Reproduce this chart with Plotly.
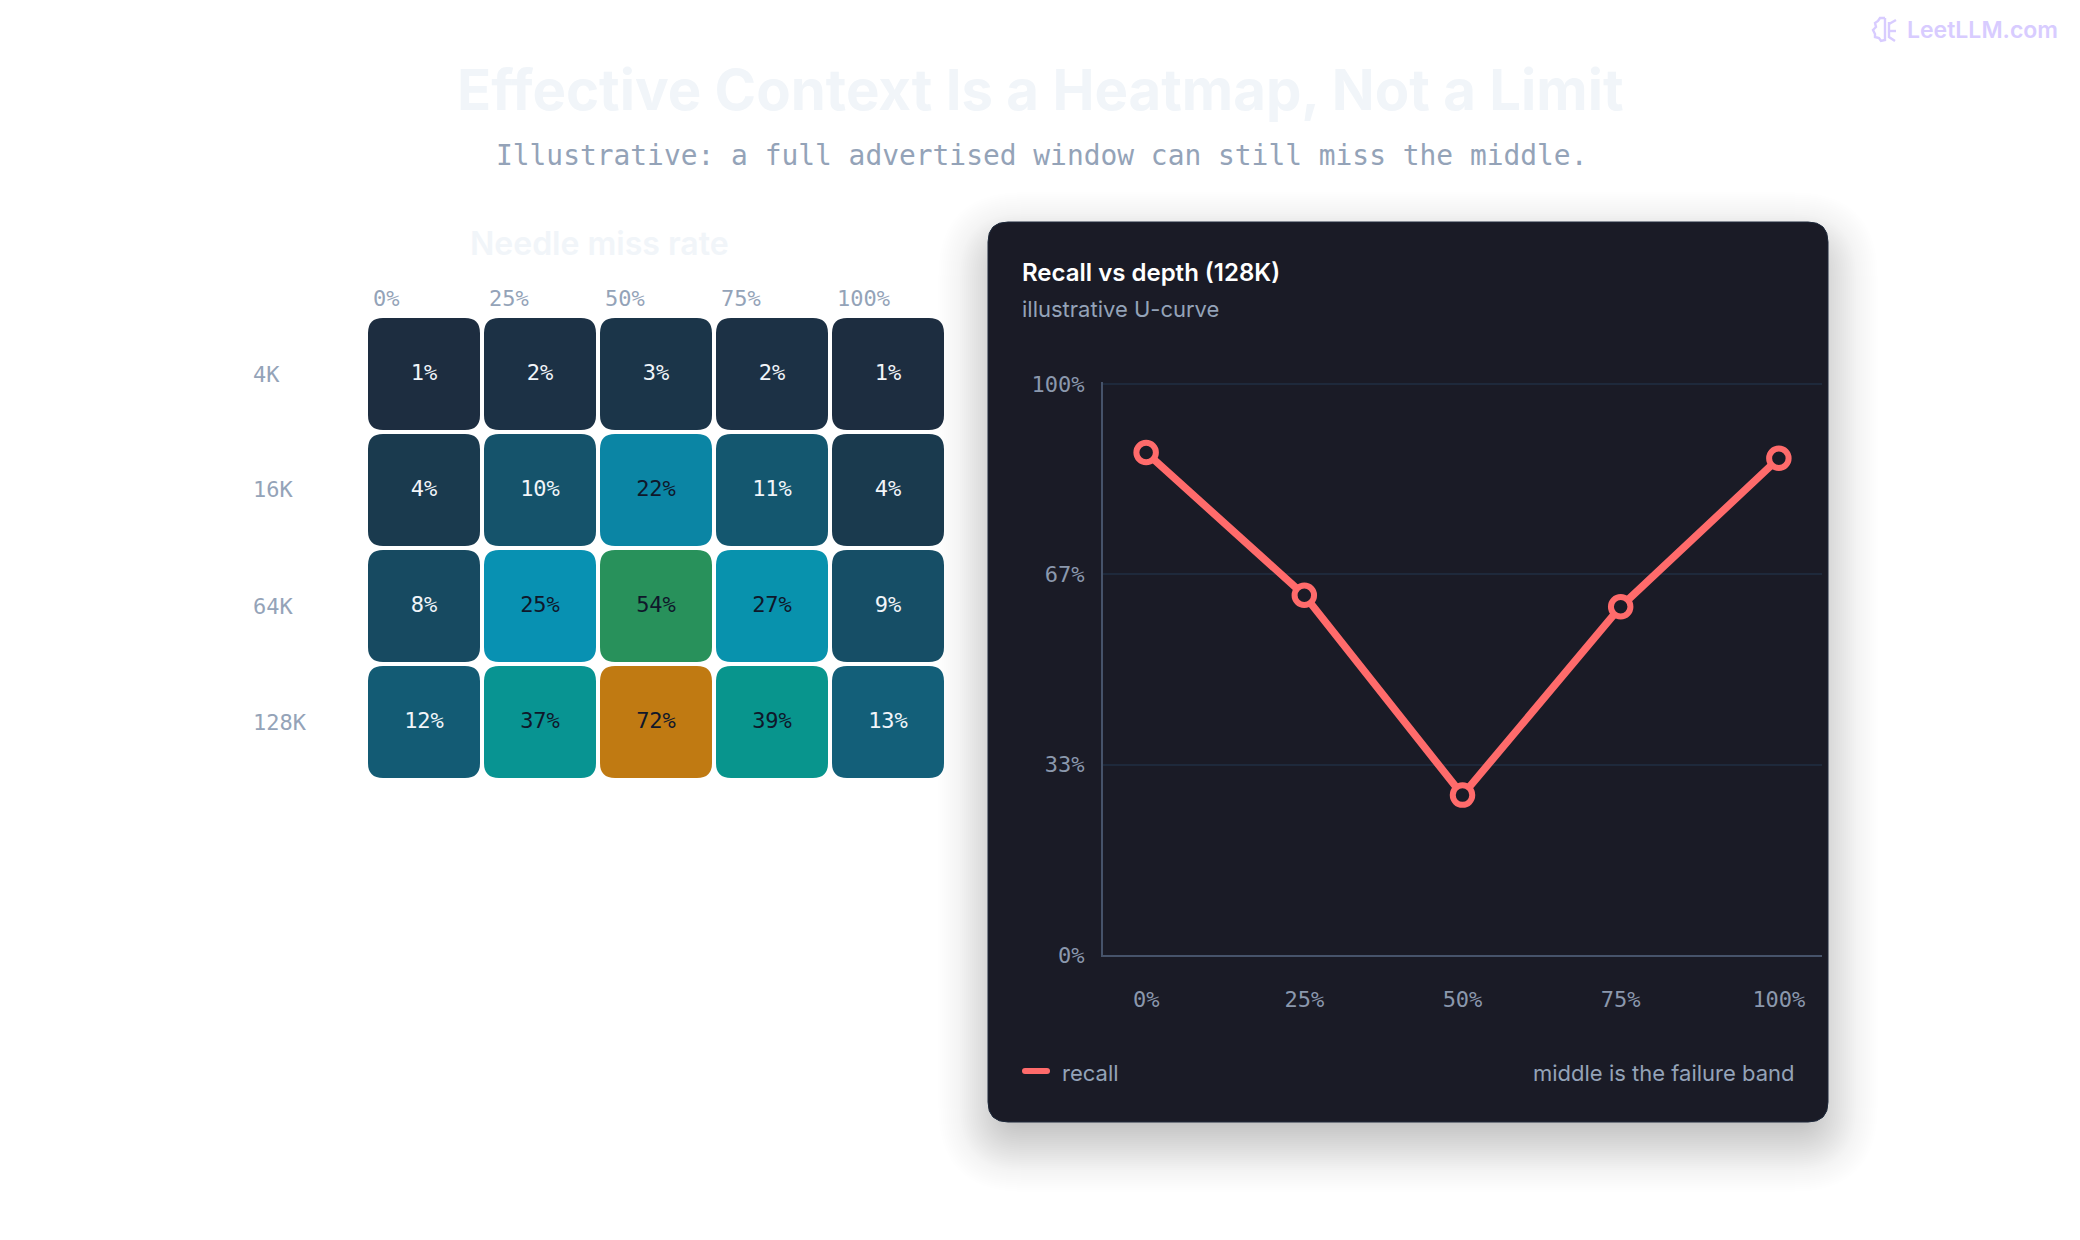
import plotly.graph_objects as go
from plotly.colors import sample_colorscale

W, H = 2064, 1224  # page adds the 8px body margin on each side
OFF = 8

# heatmap data
depths = ['0%', '25%', '50%', '75%', '100%']
windows = ['4K', '16K', '64K', '128K']
miss_rate = [
    [1, 2, 3, 2, 1],
    [4, 10, 22, 11, 4],
    [8, 25, 54, 27, 9],
    [12, 37, 72, 39, 13],
]

# line data
recall_128k = [88, 63, 28, 61, 87]
recall_ticks = [0, 33.33, 66.67, 100]
recall_tick_labels = ['0%', '33%', '67%', '100%']

MONO = 'DejaVu Sans Mono'
SANS = 'Inter'
RED = '#ff6b6b'
PURPLE = '#d8ccff'
colorscale = [
    [0.0, '#1e293b'],
    [0.25, '#0891b2'],
    [0.40, '#08958a'],
    [0.55, '#2a9158'],
    [0.72, '#c07a12'],
    [1.0, '#c07a12'],
]


def px(x, y):
    return (x - OFF) / W, 1 - (y - OFF) / H


def rounded(x0, y0, x1, y1, r):
    # closed rounded rectangle as an svg path, y grows down
    return (f'M{x0 + r},{y0} L{x1 - r},{y0} Q{x1},{y0} {x1},{y0 + r} '
            f'L{x1},{y1 - r} Q{x1},{y1} {x1 - r},{y1} '
            f'L{x0 + r},{y1} Q{x0},{y1} {x0},{y1 - r} '
            f'L{x0},{y0 + r} Q{x0},{y0} {x0 + r},{y0} Z')


def paper_rect(x0, y0, x1, y1, r):
    rx, ry = r / W, r / H
    ax, ay = px(x0, y0)
    bx, by = px(x1, y1)
    return (f'M{ax + rx},{ay} L{bx - rx},{ay} Q{bx},{ay} {bx},{ay - ry} '
            f'L{bx},{by + ry} Q{bx},{by} {bx - rx},{by} '
            f'L{ax + rx},{by} Q{ax},{by} {ax},{by + ry} '
            f'L{ax},{ay - ry} Q{ax},{ay} {ax + rx},{ay} Z')


def paper_path(points):
    # polyline through page pixels
    out = []
    for i, (x, y) in enumerate(points):
        ax, ay = px(x, y)
        out.append(f'{"M" if i == 0 else "L"}{ax},{ay}')
    return ' '.join(out)


fig = go.Figure()
shapes = []
notes = []


def note(text, x, y, size, color, family=SANS, anchor='center', weight=400):
    ax, ay = px(x, y)
    notes.append(dict(text=text, x=ax, y=ay, xref='paper', yref='paper', showarrow=False,
                      xanchor=anchor, yanchor='middle',
                      font=dict(family=family, size=size, color=color, weight=weight)))


# card shadow, stacked thin rounded rects (0 20px 60px rgba(0,0,0,.3) look)
CARD = (988, 222, 1828, 1122)
prev = 0.0
for d in range(60, -22, -2):
    t = (60 - d) / 120
    target = 0.3 * (t * t * (3 - 2 * t))
    a = 1 - (1 - target) / (1 - prev)
    prev = target
    shapes.append(dict(type='path', xref='paper', yref='paper', layer='below', line_width=0,
                       fillcolor=f'rgba(0,0,0,{a:.4f})',
                       path=paper_rect(CARD[0] - d, CARD[1] + 20 - d, CARD[2] + d, CARD[3] + 20 + d, max(16, 34 + d))))

shapes.append(dict(type='path', xref='paper', yref='paper', layer='below',
                   line=dict(color='#1e293b', width=1), fillcolor='#1a1b26',
                   path=paper_rect(*CARD, 20)))

# heatmap cells, one unit per 116px pitch
half = (112 / 116) / 2
zmax = 100
for r, row in enumerate(miss_rate):
    for c, v in enumerate(row):
        color = sample_colorscale(colorscale, v / zmax)[0]
        shapes.append(dict(type='path', xref='x', yref='y', layer='below', line_width=0,
                           fillcolor=color,
                           path=rounded(c - half, r - half, c + half, r + half, 15 / 116)))

cell_x = [c for row in miss_rate for c in range(len(row))]
cell_y = [r for r, row in enumerate(miss_rate) for _ in row]
cell_text = [f'{v}%' for row in miss_rate for v in row]
cell_color = ['#0f172a' if v >= 20 else '#f1f5f9' for row in miss_rate for v in row]
fig.add_trace(go.Scatter(x=cell_x, y=cell_y, mode='text', text=cell_text, showlegend=False,
                         textposition='middle center', hoverinfo='skip',
                         textfont=dict(family=MONO, size=22, color=cell_color)))

# line panel
fig.add_trace(go.Scatter(x=depths, y=recall_128k, mode='lines+markers', name='recall',
                         xaxis='x2', yaxis='y2', showlegend=False,
                         line=dict(color=RED, width=7.5),
                         marker=dict(size=19.5, color='#1a1b26', line=dict(color=RED, width=6))))

for i, d in enumerate(depths):
    note(d, 371 + 116 * i, 298, 22, '#94a3b8', MONO, 'left')
for i, w in enumerate(windows):
    note(w, 250.5, 374 + 116 * i, 22, '#94a3b8', MONO, 'left')

note('Effective Context Is a Heatmap, Not a Limit', 1040, 90, 56.3, '#f1f5f9', weight=700)
note('Illustrative: a full advertised window can still miss the middle.', 1041, 155, 27.9, '#94a3b8', MONO)
note('Needle miss rate', 599, 244, 32, '#f1f5f9', weight=600)
note('LeetLLM.com', 1905, 30, 23, PURPLE, anchor='left', weight=600)
note('Recall vs depth (128K)', 1020, 272, 24, '#ffffff', anchor='left', weight=600)
note('illustrative U-curve', 1020, 309, 22, '#94a3b8', anchor='left')
note('recall', 1060, 1073, 22, '#94a3b8', anchor='left')
note('middle is the failure band', 1797, 1073, 22, '#94a3b8', anchor='right')

# legend swatch
shapes.append(dict(type='path', xref='paper', yref='paper', line_width=0, fillcolor=RED,
                   path=paper_rect(1022, 1068, 1050, 1074, 3)))

# logo glyph: brain outline and three branches
brain = [(1885, 18), (1880, 18), (1878, 21), (1875, 23), (1876, 27), (1873, 30), (1875, 34),
         (1875, 37), (1879, 38), (1881, 41), (1885, 40), (1885, 18)]
shapes.append(dict(type='path', xref='paper', yref='paper', line=dict(color=PURPLE, width=2.4),
                   path=paper_path(brain)))
for branch in ([(1889, 22), (1889, 37), (1895, 41)],
               [(1889, 24), (1896, 20)],
               [(1889, 31), (1896, 31)]):
    shapes.append(dict(type='path', xref='paper', yref='paper', line=dict(color=PURPLE, width=2.4),
                       path=paper_path(branch)))

fig.update_layout(
    width=W, height=H,
    margin=dict(l=0, r=0, t=0, b=0, autoexpand=False),
    paper_bgcolor='white', plot_bgcolor='rgba(0,0,0,0)',
    shapes=shapes, annotations=notes,
    xaxis=dict(domain=[px(368, 0)[0], px(944, 0)[0]], range=[-half, 4 + half], visible=False,
               automargin=False),
    yaxis=dict(domain=[px(0, 778)[1], px(0, 318)[1]], range=[3 + half, -half], visible=False,
               automargin=False),
    xaxis2=dict(domain=[px(1103, 0)[0], px(1822, 0)[0]], anchor='y2', type='category',
                range=[-0.2727, 4.2727], showgrid=False, zeroline=False, ticks='', automargin=False,
                showline=True, linecolor='#46536a', linewidth=2, ticklabelstandoff=24,
                tickfont=dict(family=MONO, size=22, color='#8b98ad')),
    # range runs a little past 100 so the top gridline is kept
    yaxis2=dict(domain=[px(0, 955)[1], px(0, 382.3)[1]], anchor='x2', range=[0, 100.3], automargin=False,
                tickvals=recall_ticks, ticktext=recall_tick_labels, ticks='',
                gridcolor='#1e293b', gridwidth=2, zeroline=False,
                showline=True, linecolor='#46536a', linewidth=2, ticklabelstandoff=12,
                tickfont=dict(family=MONO, size=22, color='#8b98ad')),
)

fig.write_html("out.html")
